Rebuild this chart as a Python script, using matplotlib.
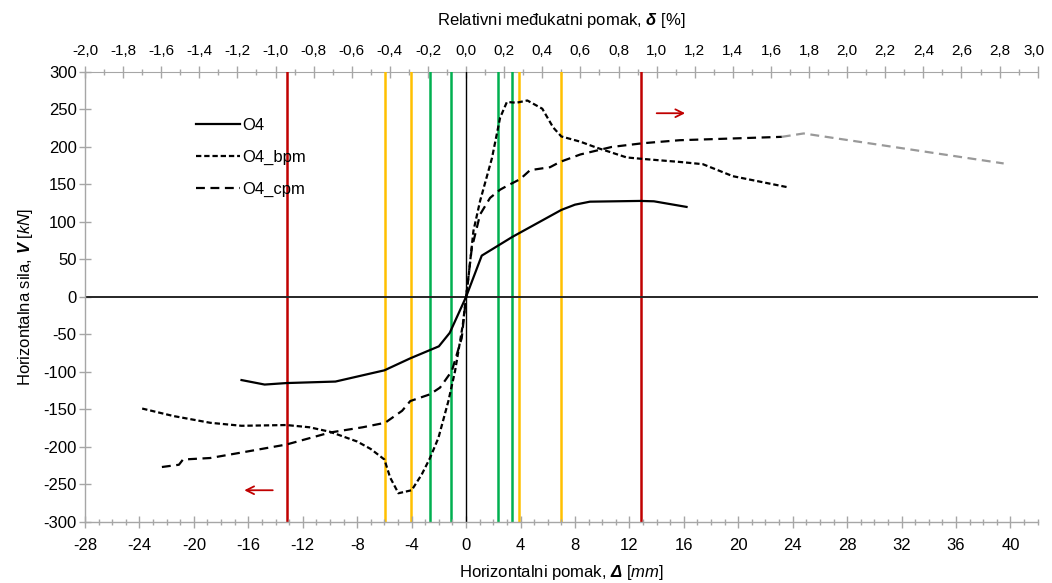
import matplotlib
matplotlib.use("Agg")
import matplotlib.pyplot as plt
from matplotlib.ticker import MultipleLocator, FixedLocator, FuncFormatter
from matplotlib.transforms import ScaledTranslation

plt.rcParams['font.family'] = ['Liberation Sans Narrow', 'Liberation Sans', 'DejaVu Sans']
plt.rcParams['axes.unicode_minus'] = False
plt.rcParams['mathtext.fontset'] = 'custom'
plt.rcParams['mathtext.rm'] = 'Liberation Sans'
plt.rcParams['mathtext.it'] = 'Liberation Sans:italic'
plt.rcParams['mathtext.bf'] = 'Liberation Sans:bold'
plt.rcParams['mathtext.bfit'] = 'Liberation Sans:bold:italic'

# ---------------- data ----------------
o4_x = [-16.5, -14.8, -13.2, -9.6, -6.0, -4.1, -2.0, -1.2, 0.0, 1.15, 3.4, 7.0, 8.0, 9.1, 12.8, 13.8, 16.2]
o4_y = [-111, -117, -115, -113, -98, -82, -66, -48, 0, 55, 80, 116, 123, 127, 128, 127.5, 120]

bpm_x = [-23.8, -21.5, -18.8, -16.5, -13.2, -11.5, -10.0, -8.0, -7.0, -6.0, -5.58, -4.97, -4.0,
         -3.26, -2.65, -2.03, -1.3, -0.81, -0.44, -0.24, 0.0, 0.17, 0.54, 1.03, 1.9, 2.5, 3.0,
         3.7, 4.5, 5.6, 6.4, 7.0, 8.4, 9.6, 11.8, 13.0, 15.7, 17.4, 19.6, 23.7]
bpm_y = [-149, -159, -168, -172, -171, -174, -180, -193, -203, -217, -241, -262, -258,
         -237, -215, -188, -139, -99, -59, -37, 0, 25, 88, 128, 185, 239, 260,
         259, 262, 251, 226, 214, 207, 199, 186, 184, 180, 177, 161, 146]

cpm_x = [-22.35, -21.1, -20.8, -18.8, -16.6, -13.2, -10.0, -7.6, -5.95, -4.7, -4.1, -2.65,
         -1.91, -1.05, -0.32, 0.0, 0.42, 1.03, 1.76, 2.5, 3.0, 3.97, 4.7, 6.17, 6.9, 8.4,
         10.7, 13.0, 15.7, 17.4, 23.2]
cpm_y = [-227, -224, -217, -215, -208, -197, -181, -174, -168, -152, -139, -130,
         -121, -99, -55, 0, 65, 110, 132, 143, 148, 157, 169, 173, 180, 190,
         200, 205, 209, 210, 213.5]

cpm_ext_x = [23.2, 24.8, 39.5]
cpm_ext_y = [213.5, 218, 178]

green_lines = [-2.64, -1.14, 2.37, 3.39]
orange_lines = [-5.99, -4.08, 3.88, 6.96]
red_lines = [-13.14, 12.83]

drift_ticks = [-2.0, -1.8, -1.6, -1.4, -1.2, -1.0, -0.8, -0.6, -0.4, -0.2, 0.0, 0.2, 0.4, 0.6,
               0.8, 1.0, 1.2, 1.4, 1.6, 1.8, 2.0, 2.2, 2.4, 2.6, 2.8, 3.0]

labels = ['O4', 'O4_bpm', 'O4_cpm']
story_height_mm = 14.0  # Δ [mm] per 1 % drift

# ---------------- figure ----------------
fig = plt.figure(figsize=(10.52, 5.83), dpi=100)
ax = fig.add_axes([0.0808, 0.1051, 0.9056, 0.7714])

gray = '#A6A6A6'
for v in green_lines:
    ax.axvline(v, color='#00B050', lw=1.8, zorder=1)
for v in orange_lines:
    ax.axvline(v, color='#FFC000', lw=1.8, zorder=1)
for v in red_lines:
    ax.axvline(v, color='#C00000', lw=1.8, zorder=1)

ax.axhline(0, color='#262626', lw=1.4, zorder=2)
ax.axvline(0, color='#000000', lw=1.0, zorder=2)

l1, = ax.plot(o4_x, o4_y, color='black', lw=1.6, label=labels[0], zorder=4)
l2, = ax.plot(bpm_x, bpm_y, color='black', lw=1.6, dashes=(2.4, 1.3), label=labels[1], zorder=4)
l3, = ax.plot(cpm_x, cpm_y, color='black', lw=1.6, dashes=(4.0, 2.5), label=labels[2], zorder=4)
ax.plot(cpm_ext_x, cpm_ext_y, color='#999999', lw=1.6, dashes=(4.0, 2.5), zorder=4)

# arrows
ax.annotate('', xy=(16.3, 245), xytext=(13.8, 245),
            arrowprops=dict(arrowstyle='->', color='#C00000', lw=1.3, mutation_scale=14))
ax.annotate('', xy=(-16.5, -258), xytext=(-14.0, -258),
            arrowprops=dict(arrowstyle='->', color='#C00000', lw=1.3, mutation_scale=14))

ax.set_xlim(-28, 42)
ax.set_ylim(-300, 300)

ax.xaxis.set_major_locator(MultipleLocator(4))
ax.xaxis.set_minor_locator(MultipleLocator(1))
ax.yaxis.set_major_locator(MultipleLocator(50))
ax.xaxis.set_major_formatter(FuncFormatter(lambda v, p: f"{int(round(v))}"))
ax.yaxis.set_major_formatter(FuncFormatter(lambda v, p: f"{int(round(v))}"))

for s in ['right', 'top']:
    ax.spines[s].set_visible(False)
for s in ['left', 'bottom']:
    ax.spines[s].set_color(gray)
    ax.spines[s].set_linewidth(1.0)

ax.tick_params(axis='x', which='major', direction='inout', length=8, width=1.0, color=gray,
               labelsize=12, pad=8)
ax.tick_params(axis='x', which='minor', direction='inout', length=5, width=1.0, color=gray)
ax.tick_params(axis='y', which='major', direction='inout', length=8, width=1.0, color=gray,
               labelsize=12, pad=2)

ax.set_xlabel(r'Horizontalni pomak, $\mathbfit{\Delta}$ [$\mathit{mm}$]', fontsize=12, labelpad=7)
ax.set_ylabel(r'Horizontalna sila, $\mathbfit{V}$ [$\mathit{kN}$]', fontsize=12, labelpad=6)

sec = ax.secondary_xaxis('top', functions=(lambda x: x / story_height_mm, lambda d: d * story_height_mm))
sec.xaxis.set_major_locator(FixedLocator(drift_ticks))
sec.xaxis.set_minor_locator(MultipleLocator(0.1))


def comma_fmt(v, p):
    s = f"{v:.1f}"
    if s == "-0.0":
        s = "0.0"
    return s.replace('.', ',')


sec.xaxis.set_major_formatter(FuncFormatter(comma_fmt))
sec.spines['top'].set_color(gray)
sec.tick_params(axis='x', which='major', direction='inout', length=8, width=1.0, color=gray,
                labelsize=11, pad=6)
sec.tick_params(axis='x', which='minor', direction='inout', length=5, width=1.0, color=gray)
sec.set_xlabel(r'Relativni međukatni pomak, $\mathbfit{\delta}$ [%]', fontsize=12, labelpad=14)

ax.legend(handles=[l1, l2, l3], loc='upper left', bbox_to_anchor=(0.11, 0.912), frameon=False,
          fontsize=12, handlelength=2.6, handletextpad=0.15, labelspacing=1.0, borderaxespad=0)

# nudge the last top tick label inward so it stays inside the canvas
fig.canvas.draw()
for t in sec.xaxis.get_majorticklabels():
    if t.get_text() == '3,0':
        t.set_horizontalalignment('right')
        t.set_transform(t.get_transform() + ScaledTranslation(5 / 72, 0, fig.dpi_scale_trans))

fig.savefig('out.png', dpi=100)
